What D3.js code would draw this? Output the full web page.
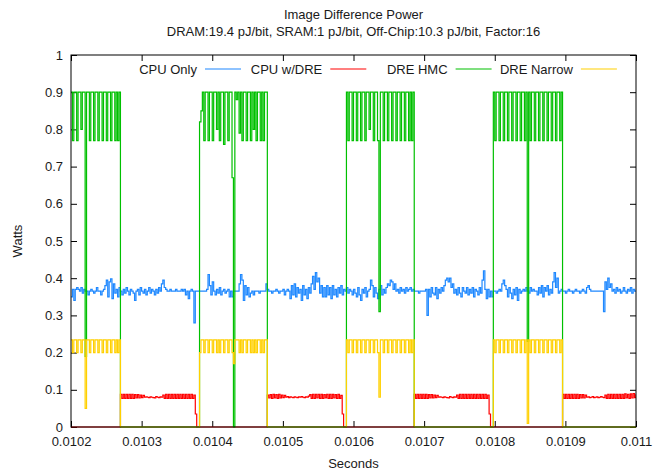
<!DOCTYPE html>
<html>
<head>
<meta charset="utf-8">
<script src="https://cdn.jsdelivr.net/npm/d3@7"></script>
<style>
body{margin:0;background:#fff;}
svg text{font-family:"Liberation Sans",Arial,sans-serif;font-size:13px;fill:#1a1a1a;}
</style>
</head>
<body>
<svg id="chart" width="664" height="472"></svg>
<script>
// samples are taken every 2 microseconds from 0.0102 s to 0.011 s (401 samples)
const startTime = 0.0102;
const sampleStep = 0.000002;

const seriesNames = ['CPU Only','CPU w/DRE','DRE HMC','DRE Narrow'];
const seriesColors = ['#1e88ff','#ff0000','#00c000','#ffd000'];
const xTicks = [0.0102,0.0103,0.0104,0.0105,0.0106,0.0107,0.0108,0.0109,0.011];
const yTicks = [0,0.1,0.2,0.3,0.4,0.5,0.6,0.7,0.8,0.9,1];

// Watts
const cpuOnly = [
.35,.37,.34,.37,.375,.37,.365,.375,.36,.37,.365,.365,.355,.365,.37,.365,.36,.365,.375,.365,
.365,.355,.365,.37,.38,.395,.35,.39,.398,.345,.385,.36,.37,.35,.375,.365,.355,.37,.36,.375,
.365,.355,.37,.365,.36,.34,.365,.37,.355,.375,.365,.36,.37,.355,.365,.375,.36,.37,.365,.355,
.37,.36,.375,.365,.385,.395,.375,.37,.365,.365,.37,.365,.365,.365,.37,.365,.365,.365,.37,.365,
.37,.355,.365,.345,.365,.37,.365,.28,.365,.365,.365,.365,.365,.365,.365,.365,.37,.41,.38,.355,
.39,.365,.355,.37,.36,.375,.355,.365,.37,.36,.365,.37,.35,.365,.35,.365,.365,.365,.365,.385,
.41,.395,.34,.38,.355,.375,.35,.36,.365,.355,.365,.365,.365,.36,.365,.365,.365,.365,.385,.37,
.365,.365,.36,.365,.365,.37,.365,.36,.365,.365,.37,.355,.365,.37,.365,.345,.38,.355,.385,.35,
.375,.36,.37,.34,.38,.355,.37,.345,.375,.36,.385,.405,.37,.415,.39,.4,.36,.38,.35,.375,
.35,.38,.355,.375,.345,.38,.355,.37,.35,.375,.36,.38,.355,.37,.365,.375,.36,.37,.365,.355,
.37,.36,.35,.375,.355,.34,.37,.36,.375,.35,.365,.37,.395,.38,.35,.375,.36,.345,.37,.38,
.355,.37,.36,.375,.385,.38,.395,.39,.37,.385,.365,.37,.36,.375,.365,.37,.36,.375,.365,.37,
.375,.365,.37,.365,.365,.365,.36,.365,.365,.365,.365,.37,.3,.37,.35,.375,.36,.355,.375,.345,
.37,.36,.375,.365,.38,.395,.4,.39,.4,.375,.385,.36,.37,.355,.375,.36,.35,.375,.365,.36,
.375,.355,.37,.36,.375,.35,.37,.365,.355,.375,.36,.395,.42,.37,.345,.37,.35,.365,.35,.365,
.365,.36,.365,.37,.365,.385,.395,.38,.37,.35,.375,.36,.345,.37,.355,.375,.34,.37,.36,.365,
.37,.365,.375,.365,.36,.375,.365,.37,.365,.365,.355,.375,.36,.38,.35,.375,.365,.38,.355,.37,
.36,.39,.415,.375,.4,.36,.365,.37,.365,.365,.36,.365,.37,.365,.365,.36,.365,.37,.365,.365,
.36,.365,.37,.365,.36,.375,.38,.37,.365,.365,.365,.365,.365,.365,.365,.365,.365,.31,.39,.37,
.4,.375,.385,.365,.37,.36,.375,.365,.37,.36,.365,.375,.365,.36,.37,.365,.375,.36,.37,.365,
.365
];

const cpuDre = [
0,0,0,0,0,0,0,0, 0,0,0,0,0,0,0,0, 0,0,0,0,0,0,0,0, 0,0,0,0,0,0,0,0, 0,0,0,
.088,.077,.088,.077,.088,.077,.088,.077,.088,.077,.087,.078,.087,.078,.086,.079,.085,.08,.081,.08,.079,.081,.08,.079,.078,.082,.08,.079,.081,.08,.086,.077,.088,.077,.088,.077,.088,.077,.088,.077,.088,.077,.088,.077,.088,.077,.088,.077,.088,.077,.088,.077,.086,.035,0,0,
0,0,0,0,0,0,0,0, 0,0,0,0,0,0,0,0, 0,0,0,0,0,0,0,0, 0,0,0,0,0,0,0,0, 0,0,0,0,0,0,0,0, 0,0,0,0,0,0,0,0,
.086,.078,.087,.077,.088,.078,.087,.077,.088,.078,.086,.079,.085,.08,.082,.079,.081,.08,.079,.081,.08,.079,.081,.08,.082,.08,.079,.081,.08,.083,.087,.077,.088,.077,.088,.078,.088,.077,.088,.077,.087,.078,.088,.077,.088,.077,.088,.078,.087,.077,.088,.077,.085,.035,0,0,
0,0,0,0,0,0,0,0, 0,0,0,0,0,0,0,0, 0,0,0,0,0,0,0,0, 0,0,0,0,0,0,0,0, 0,0,0,0,0,0,0,0, 0,0,0,0,0,0,0,0,
.088,.077,.088,.077,.088,.077,.088,.077,.088,.077,.087,.078,.087,.078,.086,.079,.085,.08,.081,.08,.079,.081,.08,.079,.078,.082,.08,.079,.081,.08,.086,.077,.088,.077,.088,.077,.088,.077,.088,.077,.088,.077,.088,.077,.088,.077,.088,.077,.088,.077,.088,.077,.086,.035,0,0,
0,0,0,0,0,0,0,0, 0,0,0,0,0,0,0,0, 0,0,0,0,0,0,0,0, 0,0,0,0,0,0,0,0, 0,0,0,0,0,0,0,0, 0,0,0,0,0,0,0,0, 0,
.088,.077,.088,.077,.088,.077,.088,.077,.088,.077,.088,.077,.087,.078,.087,.078,.086,.08,.081,.079,.08,.082,.079,.08,.081,.079,.08,.082,.08,.079,.086,.077,.088,.077,.088,.077,.088,.077,.088,.077,.088,.077,.088,.077,.089,.078,.088,.077,.089,.078,.09,.079,.088
];

const dreHmc = [
.9,.77,.9,.9,.77,.9,.9,.8,.9,.9,.19,.9,.9,.77,.9,.9,.77,.9,.9,.77,.9,.9,.77,.9,.9,.77,.9,.9,.77,.9,.9,.77,.9,.77,.9,
0,0,0,0,0,0,0,0, 0,0,0,0,0,0,0,0, 0,0,0,0,0,0,0,0, 0,0,0,0,0,0,0,0, 0,0,0,0,0,0,0,0, 0,0,0,0,0,0,0,0, 0,0,0,0,0,0,0,0,
.82,.85,.9,.77,.9,.9,.77,.9,.9,.77,.9,.9,.8,.9,.77,.9,.9,.76,.9,.9,.77,.9,.9,.67,0,.9,.88,.9,.79,.9,.77,.9,.9,.77,.9,.9,.77,.9,.8,.9,.77,.9,.9,.77,.9,.77,.9,.9,
0,0,0,0,0,0,0,0, 0,0,0,0,0,0,0,0, 0,0,0,0,0,0,0,0, 0,0,0,0,0,0,0,0, 0,0,0,0,0,0,0,0, 0,0,0,0,0,0,0,0, 0,0,0,0,0,0,0,0,
.9,.77,.9,.9,.77,.9,.9,.77,.9,.9,.77,.9,.9,.77,.9,.9,.8,.9,.9,.77,.9,.9,.77,.31,.9,.9,.77,.9,.9,.77,.9,.9,.77,.9,.9,.77,.9,.9,.77,.9,.9,.77,.9,.9,.77,.9,.77,.9,
0,0,0,0,0,0,0,0, 0,0,0,0,0,0,0,0, 0,0,0,0,0,0,0,0, 0,0,0,0,0,0,0,0, 0,0,0,0,0,0,0,0, 0,0,0,0,0,0,0,0, 0,0,0,0,0,0,0,0,
.9,.77,.9,.9,.77,.9,.9,.77,.9,.9,.77,.9,.9,.77,.9,.9,.77,.9,.9,.77,.9,.9,.77,.9,.23,.9,.77,.9,.9,.77,.9,.9,.77,.9,.9,.77,.9,.9,.77,.9,.9,.77,.9,.9,.77,.9,.9,.77,.9,
0,0,0,0,0,0,0,0, 0,0,0,0,0,0,0,0, 0,0,0,0,0,0,0,0, 0,0,0,0,0,0,0,0, 0,0,0,0,0,0,0,0, 0,0,0,0,0,0,0,0, 0,0,0,0,0
];

const dreNarrow = [
.234,.2,.234,.234,.2,.234,.234,.2,.234,.234,.05,.234,.234,.2,.234,.234,.2,.234,.234,.2,.234,.234,.2,.234,.234,.2,.234,.234,.2,.234,.234,.2,.234,.2,.234,
0,0,0,0,0,0,0,0, 0,0,0,0,0,0,0,0, 0,0,0,0,0,0,0,0, 0,0,0,0,0,0,0,0, 0,0,0,0,0,0,0,0, 0,0,0,0,0,0,0,0, 0,0,0,0,0,0,0,0,
.2,.234,.234,.2,.234,.234,.2,.234,.234,.2,.234,.234,.2,.234,.2,.234,.234,.2,.234,.234,.2,.234,.234,.2,.17,.234,.234,.234,.2,.234,.2,.234,.234,.2,.234,.234,.2,.234,.2,.234,.2,.234,.234,.2,.234,.2,.234,.234,
0,0,0,0,0,0,0,0, 0,0,0,0,0,0,0,0, 0,0,0,0,0,0,0,0, 0,0,0,0,0,0,0,0, 0,0,0,0,0,0,0,0, 0,0,0,0,0,0,0,0, 0,0,0,0,0,0,0,0,
.234,.2,.234,.234,.2,.234,.234,.2,.234,.234,.2,.234,.234,.2,.234,.234,.2,.234,.234,.2,.234,.234,.2,.08,.234,.234,.2,.234,.234,.2,.234,.234,.2,.234,.234,.2,.234,.234,.2,.234,.234,.2,.234,.234,.2,.234,.2,.234,
0,0,0,0,0,0,0,0, 0,0,0,0,0,0,0,0, 0,0,0,0,0,0,0,0, 0,0,0,0,0,0,0,0, 0,0,0,0,0,0,0,0, 0,0,0,0,0,0,0,0, 0,0,0,0,0,0,0,0,
.234,.2,.234,.234,.2,.234,.234,.2,.234,.234,.2,.234,.234,.2,.234,.234,.2,.234,.234,.2,.234,.234,.2,.234,.01,.234,.2,.234,.234,.2,.234,.234,.2,.234,.234,.2,.234,.234,.2,.234,.234,.2,.234,.234,.2,.234,.234,.2,.234,
0,0,0,0,0,0,0,0, 0,0,0,0,0,0,0,0, 0,0,0,0,0,0,0,0, 0,0,0,0,0,0,0,0, 0,0,0,0,0,0,0,0, 0,0,0,0,0,0,0,0, 0,0,0,0,0
];

const seriesValues = [cpuOnly,cpuDre,dreHmc,dreNarrow];

const svg = d3.select('#chart');
const plotLeft = 71, plotRight = 636, plotTop = 55, plotBottom = 427;
const tickLen = 6;

const xScale = d3.scaleLinear().domain([0.0102,0.011]).range([plotLeft,plotRight]);
const yScale = d3.scaleLinear().domain([0,1]).range([plotBottom,plotTop]);
const midX = (plotLeft+plotRight)/2;

// titles
svg.append('text').attr('x',midX).attr('y',19).attr('text-anchor','middle').text('Image Difference Power');
svg.append('text').attr('x',midX).attr('y',36).attr('text-anchor','middle')
	.text('DRAM:19.4 pJ/bit, SRAM:1 pJ/bit, Off-Chip:10.3 pJ/bit, Factor:16');
svg.append('text').attr('transform','translate(22,'+((plotTop+plotBottom)/2)+') rotate(-90)').attr('text-anchor','middle').text('Watts');
svg.append('text').attr('x',midX).attr('y',468).attr('text-anchor','middle').text('Seconds');

// axes, ticks pointing inward on all four sides
const fmt = d3.format('~g');
const gx = svg.append('g').attr('transform','translate(0,'+plotBottom+')')
	.call(d3.axisBottom(xScale).tickValues(xTicks).tickFormat(fmt).tickSize(-tickLen).tickPadding(10));
const gxTop = svg.append('g').attr('transform','translate(0,'+plotTop+')')
	.call(d3.axisTop(xScale).tickValues(xTicks).tickFormat('').tickSize(-tickLen));
const gy = svg.append('g').attr('transform','translate('+plotLeft+',0)')
	.call(d3.axisLeft(yScale).tickValues(yTicks).tickFormat(fmt).tickSize(-tickLen).tickPadding(8));
const gyRight = svg.append('g').attr('transform','translate('+plotRight+',0)')
	.call(d3.axisRight(yScale).tickValues(yTicks).tickFormat('').tickSize(-tickLen));
[gx,gxTop,gy,gyRight].forEach(g=>{
	g.select('.domain').remove();
	g.selectAll('.tick line').attr('stroke','#000');
	g.attr('font-family',null).attr('font-size',null);
});

// data lines
svg.append('clipPath').attr('id','plotClip')
	.append('rect').attr('x',plotLeft).attr('y',plotTop-1).attr('width',plotRight-plotLeft).attr('height',plotBottom-plotTop+2);
const line = d3.line()
	.x(d=>xScale(d.t))
	.y(d=>yScale(d.v))
	.curve(d3.curveStepAfter);
const plot = svg.append('g').attr('clip-path','url(#plotClip)');
seriesValues.forEach((vals,k)=>{
	const pts = vals.map((v,i)=>({t:startTime+i*sampleStep,v:v}));
	plot.append('path')
		.datum(pts)
		.attr('d',line)
		.attr('fill','none')
		.attr('stroke',seriesColors[k])
		.attr('stroke-width',1.2);
});

// frame
svg.append('rect').attr('x',plotLeft).attr('y',plotTop).attr('width',plotRight-plotLeft).attr('height',plotBottom-plotTop)
	.attr('fill','none').attr('stroke','#000').attr('stroke-width',1);

// legend, one row across the top of the plot
const legendY = 69, firstSample = 205, columnWidth = 125.3, sampleLen = 36;
seriesNames.forEach((name,k)=>{
	const x0 = firstSample + k*columnWidth;
	svg.append('text').attr('x',x0-8).attr('y',legendY).attr('dy','0.35em').attr('text-anchor','end').text(name);
	svg.append('line').attr('x1',x0).attr('x2',x0+sampleLen).attr('y1',legendY).attr('y2',legendY)
		.attr('stroke',seriesColors[k]).attr('stroke-width',1.2);
});
</script>
</body>
</html>
